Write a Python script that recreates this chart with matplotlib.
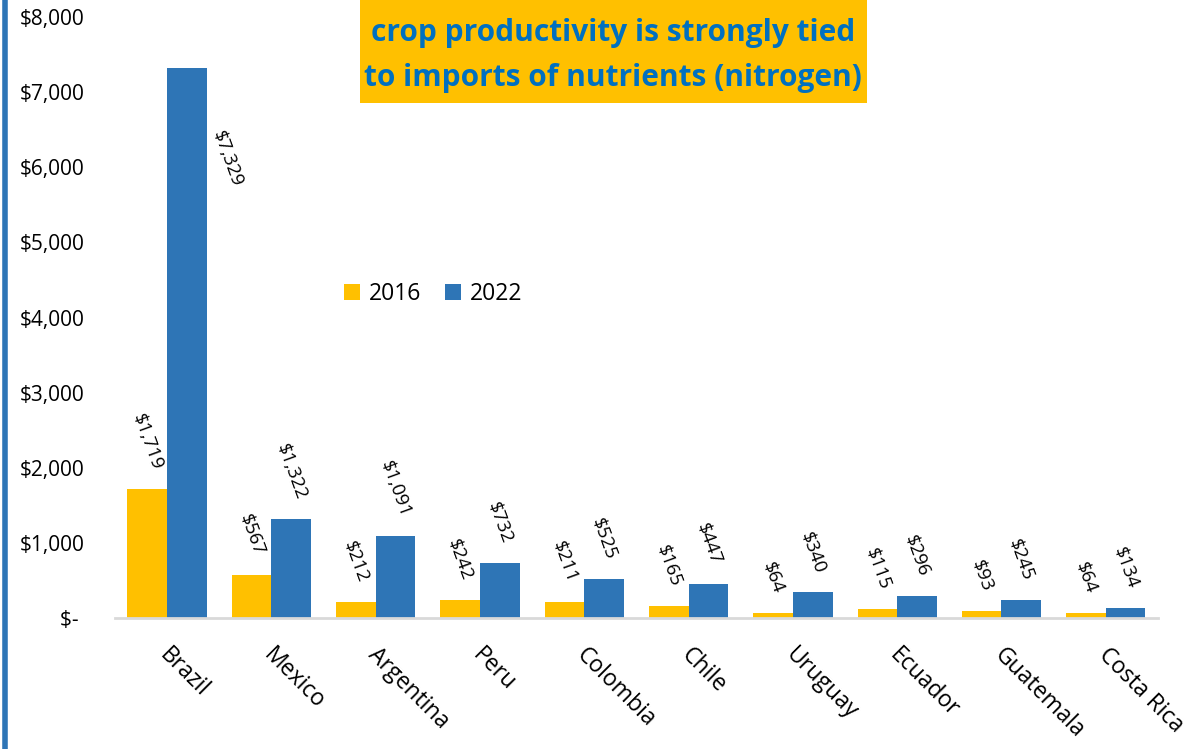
import matplotlib
matplotlib.use("Agg")
import matplotlib.pyplot as plt
from matplotlib.patches import Rectangle
from matplotlib.lines import Line2D
from matplotlib.transforms import ScaledTranslation
import numpy as np

countries = ['Brazil', 'Mexico', 'Argentina', 'Peru', 'Colombia', 'Chile',
             'Uruguay', 'Ecuador', 'Guatemala', 'Costa Rica']
imports_2016 = [1719, 567, 212, 242, 211, 165, 64, 115, 93, 64]
imports_2022 = [7329, 1322, 1091, 732, 525, 447, 340, 296, 245, 134]
title_lines = ['crop productivity is strongly tied',
               'to imports of nutrients (nitrogen)']

yellow = '#FFC000'
blue = '#2E75B6'
plt.rcParams['font.family'] = ['Open Sans', 'DejaVu Sans']

fig = plt.figure(figsize=(11.84, 7.49), dpi=100)
ax = fig.add_axes([0.097, 0.175, 0.881, 0.802])

x = np.arange(len(countries))
w = 0.38
ax.bar(x - w / 2, imports_2016, w, color=yellow, label='2016')
ax.bar(x + w / 2, imports_2022, w, color=blue, label='2022')

ax.set_xlim(-0.5, len(countries) - 0.5)
ax.set_ylim(0, 8000)
ax.set_yticks(np.arange(0, 8001, 1000))
ax.set_yticklabels(['$- '] + [f'${v:,.0f}' for v in range(1000, 8001, 1000)],
                   fontsize=15)
ax.tick_params(axis='y', length=0, pad=22)
ax.tick_params(axis='x', length=0, pad=10)
ax.set_xticks(x)
ax.set_xticklabels(countries, rotation=-45, ha='left', va='center',
                   rotation_mode='anchor', fontsize=16.5)
for lbl in ax.get_xticklabels():
    lbl.set_transform(lbl.get_transform() +
                      ScaledTranslation(-0.04, -0.2, fig.dpi_scale_trans))

for s in ['top', 'right', 'left']:
    ax.spines[s].set_visible(False)
ax.spines['bottom'].set_color('#D9D9D9')
ax.spines['bottom'].set_linewidth(2)


def fmt(v):
    return f'${v:,.0f}'


# value labels, rotated above each bar
for i, v in enumerate(imports_2016):
    ax.annotate(fmt(v), (x[i] - w / 2, v), xytext=(0, 12), textcoords='offset points',
                ha='center', va='bottom', rotation=-70, fontsize=13.5)
for i, v in enumerate(imports_2022):
    if i == 0:
        # tallest bar: label sits beside it
        ax.annotate(fmt(v), (x[i] + w / 2, v), xytext=(16, -44), textcoords='offset points',
                    ha='left', va='top', rotation=-70, fontsize=13.5)
    else:
        ax.annotate(fmt(v), (x[i] + w / 2, v), xytext=(0, 12), textcoords='offset points',
                    ha='center', va='bottom', rotation=-70, fontsize=13.5)

ax.legend(loc='center left', bbox_to_anchor=(0.2, 0.54), ncol=2, frameon=False,
          fontsize=16.5, handlelength=0.7, handleheight=0.7, handletextpad=0.4,
          columnspacing=1.0)

# heading box
fig.add_artist(Rectangle((360 / 1184, 1 - 103 / 749), 507 / 1184, 103 / 749,
                         transform=fig.transFigure, facecolor=yellow,
                         edgecolor='none', zorder=2))
for k, line in enumerate(title_lines):
    fig.text(613 / 1184, 1 - (33 + 45 * k) / 749, line, ha='center', va='center',
             fontsize=21.5, fontweight='bold', color='#0070C0', zorder=3)

# blue rule on the left edge
fig.add_artist(Line2D([5 / 1184, 5 / 1184], [0, 1], transform=fig.transFigure,
                      color=blue, linewidth=4))

fig.savefig('out.png', dpi=100)
